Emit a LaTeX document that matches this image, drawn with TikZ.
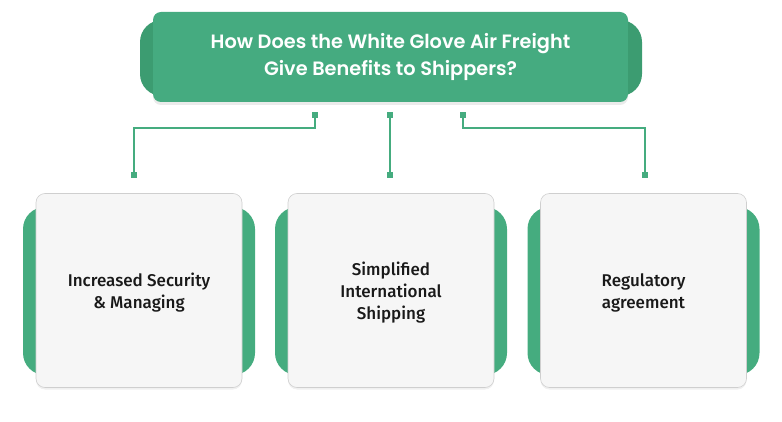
\documentclass[tikz,border=0pt]{standalone}
\usepackage{fontspec}
\setmainfont{Fira Sans}[UprightFont=* Medium]
\newfontfamily\titlefont{Poppins}[UprightFont=* SemiBold]
\usetikzlibrary{shadows}
\definecolor{gmain}{HTML}{45AB80}
\definecolor{gtab}{HTML}{3C9C71}
\definecolor{gcard}{HTML}{45AC7F}
\definecolor{cardfill}{HTML}{F6F6F6}
\definecolor{cardline}{HTML}{CFCFCF}
\tikzset{
  conn/.style={draw=gcard, line width=1.8pt},
  sq/.style={fill=gcard, minimum size=6pt, inner sep=0pt},
  cardbox/.style={fill=cardfill, draw=cardline, line width=0.6pt, rounded corners=9pt,
     minimum width=206pt, minimum height=194pt, align=center, text=black!90, font=\fontsize{17}{22}\selectfont,
     drop shadow={shadow xshift=0pt, shadow yshift=-2pt, opacity=0.12}},
  cardtab/.style={fill=gcard, rounded corners=22pt},
  cardtext/.style={align=center, text=black!90, font=\fontsize{17}{22}\selectfont},
}
\begin{document}
\begin{tikzpicture}[x=1pt,y=-1pt]
\useasboundingbox (0,0) rectangle (782,422);
% banner
\fill[gtab, rounded corners=22pt] (140,20) rectangle (642,96);
\fill[black, opacity=0.08, rounded corners=8pt] (153,14) rectangle (628,105);
\node[fill=gmain, rounded corners=8pt, minimum width=475pt, minimum height=90pt, inner sep=0pt,
  text=white, align=center, font=\titlefont\fontsize{19.3}{27.5}\selectfont] (title) at (390.5,57)
  {How Does the White Glove Air Freight\\Give Benefits to Shippers?};
% cards
\foreach \n/\cx/\txt in {c1/139/{Increased Security\\\& Managing}, c2/391/{Simplified\\International\\Shipping}, c3/643.5/{Regulatory\\agreement}}{
  \fill[cardtab] (\cx-116,207) rectangle (\cx+116,375);
  \node[cardbox] (\n) at (\cx,290.5) {};
  \node[cardtext] (\n t) at (\cx,292.5) {\txt};
}
% connectors
\node[sq] (t1) at (315,115) {};
\node[sq] (t2) at (390,115) {};
\node[sq] (t3) at (463,115) {};
\node[sq] (b1) at (134,175) {};
\node[sq] (b2) at (390,175) {};
\node[sq] (b3) at (645,175) {};
\draw[conn] (t1.center) |- (134,128) -- (b1.center);
\draw[conn] (t2.center) -- (b2.center);
\draw[conn] (t3.center) |- (645,128) -- (b3.center);
\end{tikzpicture}
\end{document}
